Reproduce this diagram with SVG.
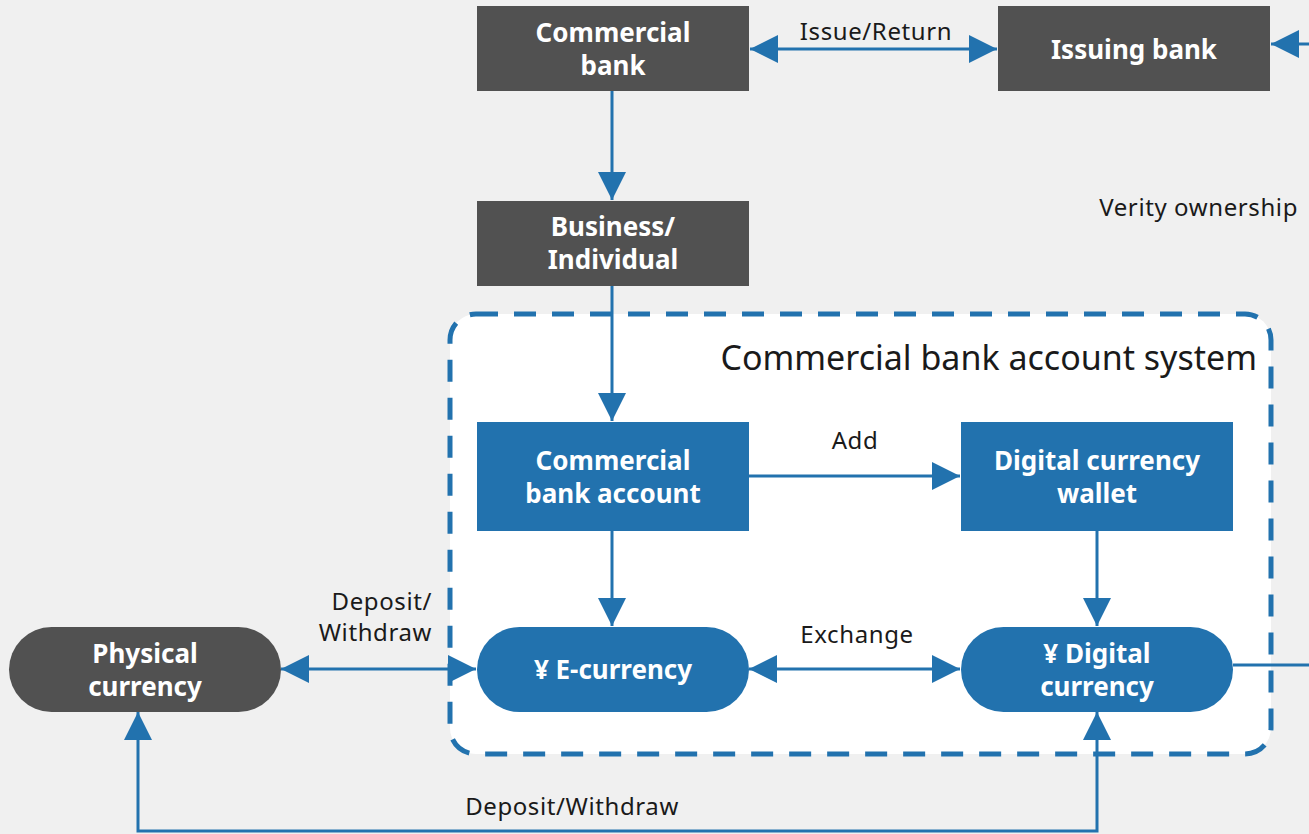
<svg xmlns="http://www.w3.org/2000/svg" width="1309" height="834" viewBox="0 0 1309 834">
<defs>
<style>
.dark{fill:#515151}
.blue{fill:#2272ae}
.nt{font-family:"Noto Sans","Open Sans",sans-serif;font-weight:bold;font-size:26px;fill:#fff;text-anchor:middle}
.lb{font-family:"Noto Sans","Open Sans",sans-serif;font-size:24px;fill:#1a1a1a;letter-spacing:0.6px}
.ln{stroke:#2272ae;stroke-width:3;fill:none}
</style>
<marker id="ah" markerUnits="userSpaceOnUse" markerWidth="28" markerHeight="28" viewBox="0 0 26 26" refX="26" refY="13" orient="auto-start-reverse">
<polygon points="0,0 26,13 0,26" fill="#2272ae"/>
</marker>
</defs>
<rect width="1309" height="834" fill="#f0f0f0"/>
<g id="system">
<rect x="450" y="314" width="821" height="440" rx="26" fill="#fff" stroke="#2272ae" stroke-width="5" stroke-dasharray="22 16"/>
<text x="1257" y="370" font-family="Noto Sans, sans-serif" font-size="34" fill="#1a1a1a" text-anchor="end">Commercial bank account system</text>
</g>
<g id="connectors">
<line class="ln" x1="750" y1="49" x2="997" y2="49" marker-start="url(#ah)" marker-end="url(#ah)"/>
<line class="ln" x1="1309" y1="44" x2="1271" y2="44" marker-end="url(#ah)"/>
<line class="ln" x1="612" y1="91" x2="612" y2="200" marker-end="url(#ah)"/>
<line class="ln" x1="612" y1="286" x2="612" y2="421" marker-end="url(#ah)"/>
<line class="ln" x1="749" y1="476" x2="960" y2="476" marker-end="url(#ah)"/>
<line class="ln" x1="612" y1="531" x2="612" y2="626" marker-end="url(#ah)"/>
<line class="ln" x1="1097" y1="531" x2="1097" y2="626" marker-end="url(#ah)"/>
<line class="ln" x1="749" y1="669" x2="960" y2="669" marker-start="url(#ah)" marker-end="url(#ah)"/>
<line class="ln" x1="281" y1="669" x2="476" y2="669" marker-start="url(#ah)" marker-end="url(#ah)"/>
<polyline class="ln" points="1097,712 1097,831 138,831 138,712" marker-start="url(#ah)" marker-end="url(#ah)"/>
<line class="ln" x1="1233" y1="665" x2="1309" y2="665"/>
<text class="lb" x="876" y="40" text-anchor="middle">Issue/Return</text>
<text class="lb" x="855" y="449" text-anchor="middle">Add</text>
<text class="lb" x="857" y="643" text-anchor="middle">Exchange</text>
<text class="lb" x="432" y="610" text-anchor="end">Deposit/</text>
<text class="lb" x="432" y="641" text-anchor="end">Withdraw</text>
<text class="lb" x="572" y="815" text-anchor="middle">Deposit/Withdraw</text>
<text class="lb" x="1298" y="216" text-anchor="end">Verity ownership</text>
</g>
<g id="commercial-bank">
<rect class="dark" x="477" y="6" width="272" height="85"/>
<text class="nt" x="613" y="42">Commercial</text>
<text class="nt" x="613" y="75">bank</text>
</g>
<g id="issuing-bank">
<rect class="dark" x="998" y="6" width="272" height="85"/>
<text class="nt" x="1134" y="59">Issuing bank</text>
</g>
<g id="business-individual">
<rect class="dark" x="477" y="201" width="272" height="85"/>
<text class="nt" x="613" y="236">Business/</text>
<text class="nt" x="613" y="269">Individual</text>
</g>
<g id="commercial-bank-account">
<rect class="blue" x="477" y="422" width="272" height="109"/>
<text class="nt" x="613" y="470">Commercial</text>
<text class="nt" x="613" y="503">bank account</text>
</g>
<g id="digital-currency-wallet">
<rect class="blue" x="961" y="422" width="272" height="109"/>
<text class="nt" x="1097" y="470">Digital currency</text>
<text class="nt" x="1097" y="503">wallet</text>
</g>
<g id="e-currency">
<rect class="blue" x="477" y="627" width="272" height="85" rx="42.5"/>
<text class="nt" x="613" y="679">¥ E-currency</text>
</g>
<g id="digital-currency">
<rect class="blue" x="961" y="627" width="272" height="85" rx="42.5"/>
<text class="nt" x="1097" y="663">¥ Digital</text>
<text class="nt" x="1097" y="696">currency</text>
</g>
<g id="physical-currency">
<rect class="dark" x="9" y="627" width="272" height="85" rx="42.5"/>
<text class="nt" x="145" y="663">Physical</text>
<text class="nt" x="145" y="696">currency</text>
</g>
</svg>
